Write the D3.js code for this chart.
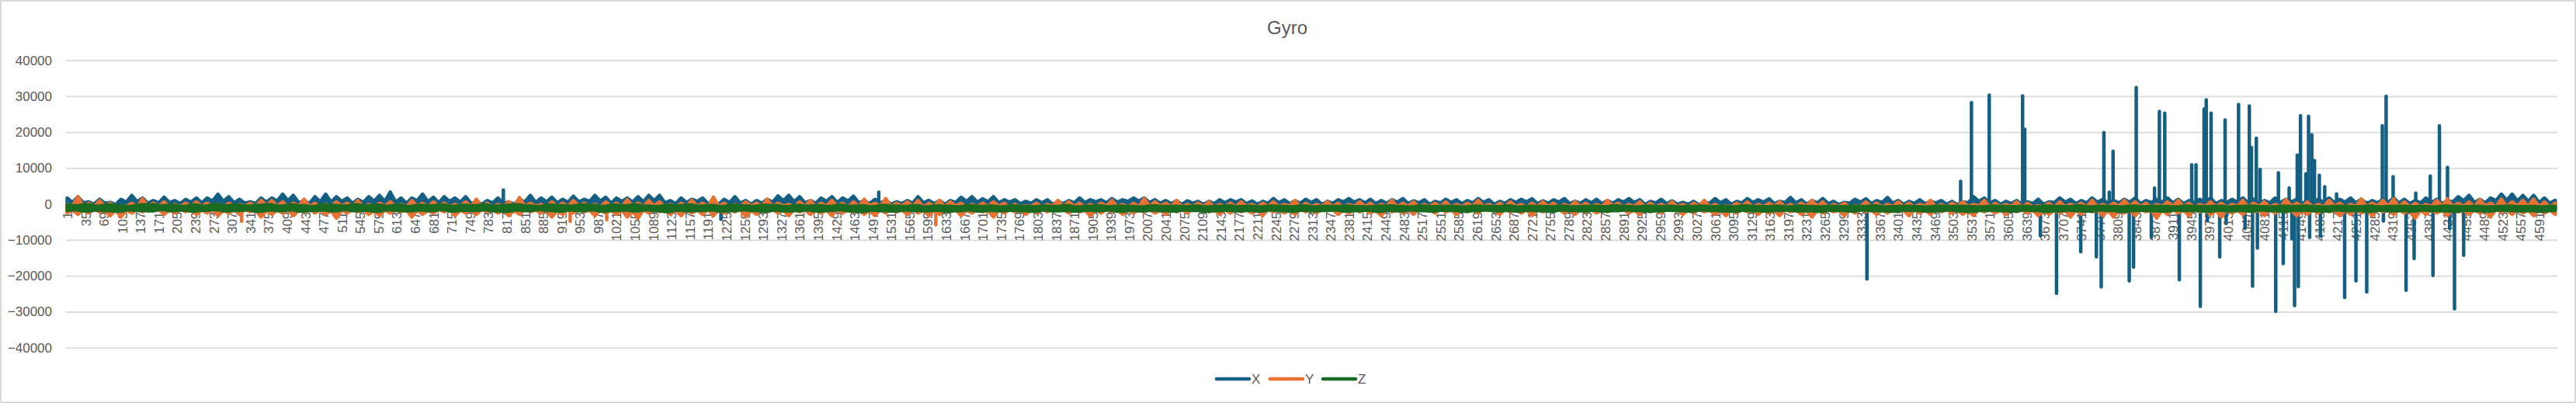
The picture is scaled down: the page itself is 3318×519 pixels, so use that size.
<!DOCTYPE html>
<html>
<head>
<meta charset="utf-8">
<title>Gyro</title>
<script src="https://cdn.jsdelivr.net/npm/d3@7/dist/d3.min.js"></script>
<style>
  html, body { margin: 0; padding: 0; background: #fff; }
  svg { display: block; }
  text { font-family: "Liberation Sans", Arial, sans-serif; fill: #595959; }
</style>
</head>
<body>
<svg id="chart" width="3318" height="519"></svg>
<script>
// Sensor readings: each axis keeps its crest in every window of twenty samples and the notch between crests.
const chartTitle = "Gyro";
const seriesNames = ["X", "Y", "Z"];
const seriesColors = ["#156082", "#E97132", "#196B24"];
const yTickValues = [40000, 30000, 20000, 10000, 0, -10000, -20000, -30000, -40000];
const windowSize = 20;
const lastSample = 4625;
const xLabelStep = 34;
const xLabelLast = 4591;
const xFloor = -800;

const xHighs = [
  1660,2020,580,1300,440,1300,2380,1660,940,1880,
  940,1300,1660,1660,2740,2020,1300,580,1660,1660,
  2740,2380,940,2020,2740,2020,1660,1300,2020,2380,
  3300,1660,1660,2740,1880,2020,1660,2020,580,940,
  1660,580,1300,2380,1660,1880,1300,2160,1300,2380,
  1880,1660,1660,2020,2380,2380,940,1660,1300,1660,
  580,1300,2020,940,940,1300,2240,2380,2020,940,
  1660,2020,1660,2160,940,1300,940,580,940,2020,
  1000,940,940,1880,2020,1440,2020,1160,1160,720,
  1160,1160,580,940,1660,1160,1160,1500,1160,1660,
  1660,1160,940,870,870,720,720,1160,1160,1160,
  870,720,1500,1160,870,1300,1160,720,1160,1500,
  1160,1300,940,1160,1500,870,1160,720,1300,1160,
  940,1500,1160,720,1160,1300,1440,870,1160,1500,
  720,1160,1300,940,1160,1500,1160,720,1300,870,
  440,720,440,1500,1160,720,1500,1160,1440,720,
  1800,1160,940,1500,720,440,1300,1440,940,1800,
  940,720,1160,720,940,720,580,2020,1660,940,
  720,940,580,1300,580,1660,1300,940,1660,1300,
  940,1300,1660,940,1300,1660,1300,940,1300,1660,
  940,1300,1660,1300,940,1660,1300,1300,940,1300,
  1660,1300,1660,1300,940,1300,1660,1300,940,1660,
  1300,940,2020,2380,1300,1660,2740,2740,2380,2380,
  1660,1000
];
const xNotches = [
  400,300,-100,200,-200,500,600,200,300,400,
  100,500,300,800,700,300,200,100,500,800,
  900,300,100,600,500,700,200,400,800,700,
  500,200,900,600,300,700,500,100,-100,300,
  100,-100,600,400,600,300,500,600,700,800,
  200,700,500,600,900,300,100,400,700,100,
  -100,400,200,-100,200,500,900,600,300,200,
  700,400,800,300,100,300,-100,100,200,300,
  100,-100,400,700,500,600,300,500,100,200,
  300,-100,100,300,400,600,300,500,700,800,
  400,200,100,-100,200,-100,100,300,500,100,
  -100,200,300,100,200,400,-100,200,600,500,
  300,100,200,500,100,300,-100,300,400,100,
  300,400,-100,200,400,600,100,200,500,100,
  200,300,100,200,500,400,-100,300,100,-100,
  -100,-200,200,300,-100,300,400,500,100,400,
  300,-100,300,100,-200,200,500,100,400,200,
  -100,200,100,300,-100,-200,300,700,200,-100,
  100,-200,100,-100,400,500,100,300,500,100,
  300,500,100,400,500,300,100,400,500,100,
  400,500,300,-100,300,400,600,100,200,500,
  400,500,300,100,300,500,300,100,300,300,
  100,600,900,400,300,900,1000,800,700,400,
  200
];
const yHighs = [
  -140,2020,220,940,220,-500,220,1440,220,580,
  -140,220,580,220,-140,220,-140,220,1000,940,
  580,220,1300,220,-140,580,220,940,-140,220,
  580,-140,940,220,580,220,-140,580,1300,220,
  -140,580,1800,220,-140,580,220,940,220,-140,
  580,220,1200,220,940,580,-140,220,1000,220,
  1900,220,-140,580,220,1300,220,-140,580,940,
  220,1000,220,580,1300,220,1500,220,580,940,
  220,1000,580,220,-140,220,580,220,-140,-500,
  220,-140,1000,580,220,-140,220,1000,-140,220,
  1500,580,220,1000,-140,220,580,-140,220,580,
  -140,220,580,-140,1000,220,-140,580,220,-140,
  580,220,-140,1000,220,580,-140,220,580,-140,
  220,1000,-140,220,580,-140,220,580,220,-140,
  580,220,-140,1000,220,-140,580,220,-140,580,
  -140,220,1000,-140,-500,220,580,-140,220,580,
  -140,220,1000,580,-140,220,-500,580,220,-140,
  580,220,-140,1000,-140,220,580,-140,1000,220,
  -140,580,220,-500,220,580,-140,220,1000,-140,
  220,1000,580,220,-140,580,1000,220,-140,580,
  220,-140,1000,220,580,-140,1200,220,580,-140,
  1000,220,-140,1400,220,1000,1400,580,220,-140,
  1000,1400,220,580,1200,220,1400,580,1000,1300,
  580,220
];
const yNotches = [
  -600,-700,-800,-600,-900,-700,-800,-600,-700,-900,
  -800,-600,-700,-800,-900,-700,-600,-800,-500,-700,
  -800,-600,-700,-900,-800,-600,-700,-800,-900,-600,
  -700,-800,-600,-900,-700,-800,-600,-700,-800,-900,
  -600,-800,-700,-600,-900,-800,-700,-600,-800,-900,
  -700,-800,-600,-700,-600,-800,-900,-700,-600,-800,
  -700,-900,-800,-600,-700,-800,-600,-900,-700,-800,
  -600,-700,-900,-800,-600,-700,-800,-600,-700,-900,
  -700,-800,-600,-900,-800,-700,-600,-900,-800,-700,
  -900,-600,-800,-700,-900,-800,-600,-700,-900,-800,
  -700,-600,-800,-900,-700,-800,-900,-700,-800,-600,
  -900,-700,-800,-600,-900,-800,-700,-800,-900,-700,
  -800,-900,-600,-800,-700,-900,-800,-700,-900,-800,
  -600,-700,-900,-800,-700,-900,-800,-700,-900,-800,
  -700,-900,-800,-600,-900,-700,-800,-900,-700,-800,
  -900,-600,-800,-900,-800,-700,-900,-800,-700,-900,
  -800,-600,-700,-900,-800,-900,-700,-800,-900,-700,
  -800,-900,-600,-800,-900,-700,-800,-600,-900,-800,
  -700,-900,-800,-700,-900,-800,-600,-900,-700,-800,
  -600,-700,-800,-900,-700,-600,-800,-900,-700,-800,
  -900,-600,-800,-700,-900,-800,-600,-700,-900,-800,
  -600,-900,-700,-800,-600,-700,-800,-900,-800,-700,
  -600,-800,-700,-900,-600,-800,-700,-600,-700,-800,
  -900
];
const yLows = [
  -2500,-2870,-2500,-2150,-3230,-3590,-2500,-2150,-1800,-2870,
  -2500,-2150,-2870,-2500,-3230,-2500,-2870,-2150,-3590,-2870,
  -2500,-3230,-2150,-2500,-2870,-3950,-2500,-2150,-2870,-3230,
  -2500,-2150,-3590,-2870,-2500,-2150,-3230,-2500,-2870,-2150,
  -2500,-3230,-2870,-2150,-2500,-3590,-2870,-2500,-2150,-3230,
  -2500,-2870,-3590,-3950,-2500,-2150,-2870,-3230,-2500,-2870,
  -3230,-2500,-2150,-3590,-2870,-2150,-2500,-3230,-2150,-2870,
  -2500,-3230,-2500,-2150,-2870,-3230,-2500,-2150,-2870,-2500,
  -3230,-2870,-2150,-3230,-2500,-2150,-3590,-2500,-2150,-2870,
  -2500,-2150,-1800,-2500,-2150,-3230,-2500,-2150,-2870,-2500,
  -2150,-2500,-2870,-2150,-2500,-1800,-2150,-2870,-2500,-2150,
  -2500,-3230,-2150,-2500,-2870,-2150,-2500,-1800,-2870,-2500,
  -2150,-2500,-3230,-2150,-2500,-2870,-1800,-2500,-2150,-2870,
  -2150,-2500,-1800,-2870,-2150,-2500,-3230,-2150,-1800,-2500,
  -2870,-2150,-2500,-2150,-1800,-2500,-2870,-2150,-2500,-1800,
  -2870,-2500,-2150,-2870,-3230,-2500,-2150,-2870,-2500,-3230,
  -2150,-2870,-3590,-2500,-2150,-3230,-2500,-2150,-2870,-2500,
  -2150,-3230,-2500,-2870,-2150,-2500,-2870,-3230,-2150,-2500,
  -2870,-2150,-2500,-3230,-2870,-2500,-3590,-2870,-2150,-3230,
  -3590,-2500,-3230,-2150,-3950,-2870,-2500,-3230,-2150,-2870,
  -3590,-2500,-2870,-2150,-3230,-2500,-2150,-3230,-2870,-2500,
  -2150,-3230,-2870,-2500,-3230,-2150,-2870,-2500,-3950,-2870,
  -2500,-3230,-2150,-2870,-2500,-3590,-2150,-2870,-2500,-3230,
  -2500,-2870
];
const yRises = [
  -1700,-1600,-1500,-1800,-1600,-1700,-1500,-1400,-1500,-1700,
  -1500,-1600,-1700,-1500,-1800,-1600,-1500,-1700,-1800,-1600,
  -1500,-1700,-1400,-1600,-1800,-1700,-1500,-1600,-1800,-1700,
  -1500,-1600,-1700,-1800,-1500,-1400,-1700,-1600,-1500,-1700,
  -1600,-1800,-1500,-1700,-1600,-1800,-1500,-1400,-1700,-1600,
  -1800,-1700,-1900,-1600,-1500,-1700,-1800,-1600,-1700,-1500,
  -1600,-1700,-1500,-1800,-1600,-1500,-1700,-1500,-1600,-1800,
  -1700,-1500,-1600,-1800,-1700,-1500,-1400,-1700,-1500,-1800,
  -1700,-1500,-1600,-1700,-1500,-1800,-1600,-1500,-1700,-1600,
  -1500,-1400,-1500,-1600,-1700,-1600,-1500,-1700,-1600,-1500,
  -1600,-1700,-1500,-1600,-1400,-1500,-1700,-1600,-1500,-1600,
  -1700,-1500,-1600,-1700,-1500,-1600,-1400,-1600,-1700,-1500,
  -1600,-1700,-1500,-1600,-1700,-1400,-1600,-1500,-1700,-1500,
  -1600,-1400,-1600,-1500,-1700,-1600,-1500,-1400,-1500,-1700,
  -1500,-1600,-1500,-1400,-1600,-1700,-1500,-1600,-1400,-1700,
  -1600,-1500,-1700,-1800,-1600,-1500,-1700,-1600,-1800,-1500,
  -1700,-1800,-1600,-1500,-1700,-1600,-1500,-1700,-1600,-1500,
  -1700,-1600,-1700,-1500,-1600,-1700,-1800,-1500,-1600,-1700,
  -1500,-1600,-1700,-1800,-1600,-1800,-1700,-1500,-1700,-1800,
  -1600,-1700,-1500,-1800,-1700,-1600,-1700,-1500,-1700,-1800,
  -1600,-1700,-1500,-1700,-1600,-1500,-1700,-1800,-1600,-1500,
  -1700,-1800,-1600,-1700,-1500,-1700,-1600,-1800,-1700,-1600,
  -1700,-1500,-1700,-1600,-1800,-1500,-1700,-1600,-1700,-1600,
  -1700
];
const zHighs = [
  -300,-500,-200,-600,-300,-500,-700,-300,-200,-500,
  -400,-700,-300,-600,-200,-500,-300,-600,-400,-250,
  -600,-300,-500,-700,-300,-450,-600,-250,-500,-350,
  -600,-300,-700,-400,-550,-300,-650,-400,-500,-300,
  -600,-400,-300,-550,-700,-350,-500,-600,-300,-450,
  -650,-350,-500,-300,-600,-700,-400,-500,-300,-600,
  -450,-700,-350,-550,-650,-400,-500,-750,-450,-600,
  -500,-700,-400,-650,-550,-750,-450,-600,-700,-500,
  -800,-550,-650,-750,-500,-700,-600,-800,-550,-650,
  -750,-600,-700,-500,-800,-650,-550,-750,-600,-700,
  -800,-550,-700,-650,-750,-600,-800,-700,-550,-750,
  -650,-800,-600,-700,-750,-550,-800,-650,-700,-600,
  -750,-800,-650,-550,-700,-800,-600,-750,-650,-700,
  -800,-600,-700,-750,-550,-800,-650,-700,-750,-600,
  -800,-700,-650,-750,-550,-700,-800,-600,-750,-650,
  -800,-700,-600,-750,-650,-800,-550,-700,-750,-650,
  -800,-600,-700,-800,-650,-750,-600,-700,-550,-800,
  -700,-650,-750,-800,-600,-700,-650,-750,-800,-600,
  -700,-750,-650,-800,-600,-700,-750,-550,-800,-650,
  -700,-800,-600,-750,-650,-700,-800,-600,-700,-750,
  -650,-800,-700,-600,-750,-800,-650,-700,-600,-750,
  -800,-650,-700,-750,-600,-800,-700,-650,-750,-700,
  -800,-600,-700,-750,-650,-800,-700,-600,-750,-700,
  -800,-650
];
const zLows = [
  -1800,-1650,-1950,-1700,-1850,-2000,-1650,-1800,-1900,-1600,
  -1850,-1700,-1950,-1750,-1600,-1900,-1800,-1650,-2000,-1700,
  -1850,-1650,-1950,-1800,-1700,-1900,-1600,-1850,-1750,-2000,
  -1650,-1800,-1900,-1700,-1850,-1600,-1950,-1750,-1800,-1650,
  -1900,-2000,-1700,-1850,-1600,-1800,-1950,-1700,-1850,-1650,
  -2000,-1800,-1700,-1900,-1650,-1850,-2100,-1750,-1900,-1800,
  -1700,-1950,-1850,-1650,-1800,-2000,-1750,-1900,-1850,-1700,
  -1950,-1800,-1650,-1900,-2050,-1750,-1850,-1950,-1700,-1800,
  -1900,-1750,-2000,-1850,-1700,-1950,-1800,-1900,-1750,-1850,
  -2000,-1700,-1900,-1800,-1950,-1750,-1850,-1700,-2000,-1800,
  -1900,-1750,-1850,-1950,-1700,-1800,-2000,-1850,-1750,-1900,
  -1800,-1950,-1700,-1850,-2000,-1750,-1900,-1800,-1700,-1950,
  -1850,-1750,-2000,-1800,-1900,-1700,-1850,-1950,-1750,-1800,
  -2000,-1850,-1700,-1900,-1800,-1950,-1750,-1850,-2000,-1700,
  -1800,-1900,-1750,-1950,-1850,-1700,-1800,-2000,-1900,-1750,
  -1850,-1950,-1700,-1800,-1900,-2000,-1750,-1850,-1950,-1800,
  -1700,-1900,-1850,-2000,-1750,-1800,-1950,-1700,-1850,-1900,
  -2000,-1750,-1800,-1950,-1850,-1700,-1900,-2000,-1800,-1750,
  -1850,-1950,-1700,-1800,-2000,-1900,-1750,-1850,-1950,-1700,
  -1800,-2000,-1850,-1750,-1900,-1950,-1700,-1800,-1850,-2000,
  -1750,-1900,-1800,-1950,-1700,-1850,-2000,-1800,-1750,-1900,
  -1950,-1700,-1850,-1800,-2000,-1750,-1900,-1850,-1950,-1700,
  -1800,-1900,-2000,-1750,-1850,-1950,-1700,-1800,-1900,-1850,
  -2000,-1800
];

// Isolated excursions, listed by sample number.
const xBurstSamples = [
  811,1215,1508,3343,3517,3537,3570,3632,3636,3665,3695,3740,3769,3778,3783,3793,3800,
  3830,3838,3843,3871,3877,3886,3896,3923,3946,3954,3962,3969,3973,3975,3982,3998,4008,
  4010,4033,4045,4053,4057,4059,4066,4068,4073,4102,4107,4116,4127,4132,4137,4142,4144,
  4148,4158,4163,4165,4169,4174,4183,4185,4193,4215,4230,4251,4271,4300,4302,4307,4320,
  4344,4359,4362,4389,4394,4406,4421,4425,4434,4451
];
const xBurstValues = [
  3900,-4300,3300,-20900,6300,28200,30300,30100,20800,-8900,-24900,-13300,-14700,-23100,19900,3300,14700,
  -21400,-17600,32400,-9300,4400,25800,25300,-21100,10900,10900,-28500,26400,29000,-4700,25300,-14700,23400,
  -5400,27700,-6800,27300,15700,-22900,18300,-12300,9600,-29900,8700,-16600,4500,-9700,-28300,13600,-23000,
  24600,8400,24400,-9300,19300,12100,8000,-9000,4800,2800,-26000,-21400,-24500,21800,-4700,30000,7600,
  -24000,-15200,3000,7800,-19900,21800,10200,-6800,-29200,-14300
];
const yBurstSamples = [325, 935, 1003, 1614];
const yBurstValues = [-4800, -4800, -4400, -5800];
const burstOriginX = 400;
const burstOriginY = -1200;

// Crest at the window start, notch halfway to the next window.
function envelope(highs, notches, lows, rises) {
  const points = [];
  highs.forEach((h, i) => {
    points.push({ sample: 1 + i * windowSize, high: h, low: lows[i] });
    if (i < notches.length) {
      points.push({ sample: 1 + (i + 0.5) * windowSize, high: notches[i], low: rises[i] });
    }
  });
  return points;
}
const bursts = (samples, values, origin) => samples.map((s, i) => ({ sample: s, value: values[i], origin }));

const seriesData = [
  { band: envelope(xHighs, xNotches, xHighs.map(() => xFloor), xNotches.map(() => xFloor)),
    bursts: bursts(xBurstSamples, xBurstValues, burstOriginX) },
  { band: envelope(yHighs, yNotches, yLows, yRises),
    bursts: bursts(yBurstSamples, yBurstValues, burstOriginY) },
  { band: envelope(zHighs, zHighs.slice(1), zLows, zLows.slice(1)), bursts: [] }
];

const svg = d3.select("#chart");
const plot = { left: 85, right: 3294, top: 77.7, bottom: 447.7 };
const fontSize = 17;
const lineWidth = 4.5;

svg.append("rect")
  .attr("x", 1).attr("y", 1).attr("width", 3316).attr("height", 517)
  .attr("fill", "#fff").attr("stroke", "#D9D9D9").attr("stroke-width", 2);

const x = d3.scaleLinear().domain([1, lastSample]).range([plot.left + 1.5, plot.right]);
const y = d3.scaleLinear().domain([-40000, 40000]).range([plot.bottom, plot.top]);

svg.append("text")
  .attr("x", 1658).attr("y", 44)
  .attr("text-anchor", "middle").attr("font-size", 24)
  .text(chartTitle);

// Horizontal gridlines and value labels.
const yAxis = d3.axisLeft(y).tickValues(yTickValues).tickSize(plot.left - plot.right).tickPadding(18).tickFormat(d3.format("d"));
const yAxisG = svg.append("g").attr("transform", `translate(${plot.left},0)`).call(yAxis);
yAxisG.select(".domain").remove();
yAxisG.selectAll("line").attr("stroke", "#D9D9D9").attr("stroke-width", 1.7);
yAxisG.selectAll("text").attr("font-size", fontSize).attr("font-family", null).style("fill", "#595959");

// Sample-number labels, hanging just below the zero line.
const xAxis = d3.axisBottom(x).tickValues(d3.range(1, xLabelLast + 1, xLabelStep)).tickSize(0).tickFormat(d3.format("d"));
const xAxisG = svg.append("g").attr("transform", `translate(0,${y(0) + 10})`).call(xAxis);
xAxisG.select(".domain").remove();
xAxisG.selectAll("text")
  .attr("font-size", fontSize)
  .attr("text-anchor", "end")
  .attr("transform", "rotate(-90)")
  .attr("x", 0).attr("y", 0).attr("dy", "0.35em")
  .style("fill", "#595959");

// Each axis: its band of crests and notches, then single-sample excursions, blue lowest and green on top.
const band = d3.area().x(d => x(d.sample)).y0(d => y(d.low)).y1(d => y(d.high));
const series = svg.append("g").selectAll("g").data(seriesData).join("g")
  .attr("stroke", (d, i) => seriesColors[i])
  .attr("fill", (d, i) => seriesColors[i])
  .attr("stroke-width", lineWidth)
  .attr("stroke-linejoin", "round")
  .attr("stroke-linecap", "round");
series.append("path").attr("d", d => band(d.band));
series.selectAll("line").data(d => d.bursts).join("line")
  .attr("x1", d => x(d.sample)).attr("x2", d => x(d.sample))
  .attr("y1", d => y(d.origin)).attr("y2", d => y(d.value));

// Legend along the bottom edge.
const legendSlots = d3.scaleOrdinal().domain(seriesNames).range([1565, 1634, 1702]);
const legend = svg.append("g").selectAll("g").data(seriesNames).join("g")
  .attr("transform", d => `translate(${legendSlots(d)},488)`);
legend.append("line")
  .attr("x1", 2).attr("x2", 44).attr("y1", 0).attr("y2", 0)
  .attr("stroke", (d, i) => seriesColors[i])
  .attr("stroke-width", lineWidth).attr("stroke-linecap", "round");
legend.append("text")
  .attr("x", 47).attr("y", 6).attr("font-size", fontSize)
  .text(d => d);
</script>
</body>
</html>
